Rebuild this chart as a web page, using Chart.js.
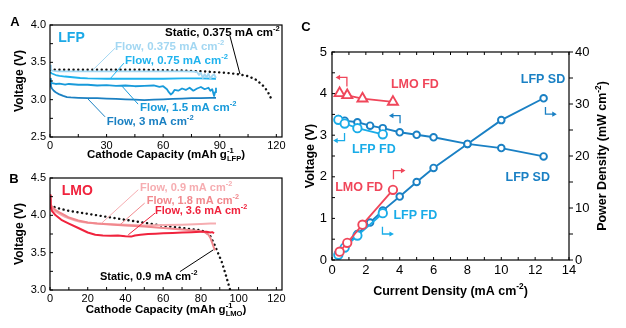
<!DOCTYPE html>
<html>
<head>
<meta charset="utf-8">
<script src="https://cdn.jsdelivr.net/npm/chart.js@4.4.1/dist/chart.umd.min.js"></script>
<style>
  html, body { margin: 0; padding: 0; background: #fff; }
  #wrap { position: relative; width: 626px; height: 328px; overflow: hidden; }
  canvas { position: absolute; }
</style>
</head>
<body>
<div id="wrap">
  <canvas id="chartA" width="300" height="165" style="left:0;top:0"></canvas>
  <canvas id="chartB" width="300" height="168" style="left:0;top:160px"></canvas>
  <canvas id="chartC" width="326" height="328" style="left:300px;top:0"></canvas>
</div>
<script>
// ---- Panel A: LFP discharge at different flow rates ----
const lfpTicksX = [0, 30, 60, 90, 120];
const lfpTicksY = [2.5, 3.0, 3.5, 4.0];

const lfpStaticCap = [0, 10, 20, 30, 40, 50, 60, 70, 80, 90, 95, 100, 105, 109, 112, 114, 116, 117.5];
const lfpStaticV   = [3.40, 3.40, 3.40, 3.40, 3.40, 3.40, 3.395, 3.39, 3.38, 3.365, 3.355, 3.34, 3.315, 3.27, 3.21, 3.16, 3.08, 3.0];

const lfp375Cap = [0, 0.5, 1, 2, 4, 6, 10, 20, 30, 40, 50, 60, 70, 76, 78, 79, 80, 81, 82, 83, 84, 85, 86, 87, 88];
const lfp375V   = [3.46, 3.40, 3.39, 3.385, 3.38, 3.38, 3.38, 3.38, 3.38, 3.38, 3.38, 3.38, 3.38, 3.375, 3.37, 3.33, 3.36, 3.29, 3.34, 3.30, 3.35, 3.28, 3.32, 3.34, 3.29];

const lfp75Cap = [0, 1, 3, 5, 8, 12, 16, 20, 30, 40, 50, 60, 70, 80, 88];
const lfp75V   = [3.37, 3.35, 3.33, 3.32, 3.31, 3.30, 3.29, 3.285, 3.28, 3.28, 3.28, 3.28, 3.285, 3.285, 3.28];

const lfp150Cap = [0, 0.5, 1, 3, 5, 8, 10, 15, 20, 25, 30, 35, 40, 45, 50, 55, 58, 60, 62, 63, 64, 65, 66, 68, 70, 72, 74, 76, 78, 80, 82, 84, 85, 86, 87, 87.5, 88];
const lfp150V   = [3.28, 3.24, 3.22, 3.21, 3.215, 3.20, 3.21, 3.20, 3.20, 3.19, 3.195, 3.185, 3.19, 3.18, 3.185, 3.19, 3.17, 3.18, 3.14, 3.10, 3.07, 3.09, 3.13, 3.12, 3.15, 3.13, 3.16, 3.12, 3.15, 3.17, 3.14, 3.16, 3.12, 3.14, 3.05, 3.10, 3.16];

const lfp300Cap = [0, 0.5, 1, 2, 3, 5, 7, 9, 11, 15, 20, 25, 30, 35, 40, 45, 50, 55, 60, 65, 70, 75, 80, 85, 88];
const lfp300V   = [3.22, 3.18, 3.15, 3.12, 3.10, 3.07, 3.05, 3.035, 3.03, 3.025, 3.02, 3.02, 3.015, 3.01, 3.005, 3.0, 2.995, 3.0, 3.005, 3.01, 3.015, 3.02, 3.02, 3.025, 3.025];

// ---- Panel B: LMO discharge ----
const lmoTicksX = [0, 20, 40, 60, 80, 100, 120];
const lmoTicksY = [3.0, 3.5, 4.0, 4.5];

const lmoStaticCap = [0, 5, 10, 20, 30, 40, 50, 60, 70, 80, 83, 85, 87, 89, 91, 93, 95.5];
const lmoStaticV   = [4.13, 4.09, 4.06, 4.02, 3.98, 3.94, 3.90, 3.86, 3.83, 3.80, 3.77, 3.72, 3.62, 3.50, 3.38, 3.22, 3.0];

const lmo09Cap = [0, 0.3, 1, 3, 5, 8, 10, 13, 16, 20, 25, 30, 40, 50, 60, 70, 80, 85, 88];
const lmo09V   = [4.2, 4.12, 4.09, 4.05, 4.02, 3.98, 3.96, 3.935, 3.915, 3.90, 3.89, 3.885, 3.875, 3.865, 3.87, 3.875, 3.885, 3.89, 3.89];

const lmo18Cap = [0, 0.3, 1, 3, 5, 8, 10, 15, 20, 25, 30, 40, 50, 60, 70, 78, 82, 84, 85, 86, 87, 87.5];
const lmo18V   = [4.22, 4.15, 4.12, 4.07, 4.04, 4.0, 3.97, 3.93, 3.905, 3.89, 3.88, 3.865, 3.85, 3.83, 3.81, 3.795, 3.775, 3.74, 3.70, 3.63, 3.56, 3.53];

const lmo36Cap = [0, 0.2, 0.5, 1, 3, 6, 10, 15, 20, 24, 28, 32, 36, 40, 43, 45, 48, 52, 56, 60, 65, 70, 75, 80, 83, 85, 86, 87];
const lmo36V   = [4.1, 4.27, 4.12, 4.06, 4.0, 3.94, 3.89, 3.83, 3.77, 3.74, 3.73, 3.725, 3.73, 3.72, 3.715, 3.73, 3.74, 3.75, 3.755, 3.76, 3.765, 3.77, 3.775, 3.78, 3.78, 3.77, 3.775, 3.76];

// ---- Panel C: voltage and power density vs current density ----
const curTicks = [0, 2, 4, 6, 8, 10, 12, 14];
const voltTicks = [0, 1, 2, 3, 4, 5];
const powTicks = [0, 10, 20, 30, 40];

const lmoFdCurrent = [0.45, 0.9, 1.8, 3.6];
const lmoFdVoltage = [4.01, 3.96, 3.88, 3.80];
const lmoFdPower   = [1.6, 3.3, 6.8, 13.5];

const lfpFdCurrent = [0.375, 0.75, 1.5, 3];
const lfpFdVoltage = [3.37, 3.28, 3.17, 3.02];
const lfpFdPower   = [1.0, 2.4, 4.7, 9.0];

const lfpSdCurrent = [0.375, 0.75, 1.5, 2.25, 3, 4, 5, 6, 8, 10, 12.5];
const lfpSdVoltage = [3.39, 3.35, 3.31, 3.23, 3.17, 3.07, 3.01, 2.95, 2.79, 2.69, 2.49];
const lfpSdPower   = [1.3, 2.5, 5.0, 7.2, 9.5, 12.2, 15.0, 17.7, 22.3, 26.9, 31.1];

// ---- colours ----
const FONT = '"Liberation Sans", Arial, Helvetica, sans-serif';
const C375 = '#a3d7f2', C75 = '#1fb3ee', C150 = '#189ada', C300 = '#1b80c2', LFP_LABEL = '#1ca9e7';
const P09 = '#f6adb1', P18 = '#f1888d', P36 = '#f0233d';
const RED = '#f0465a', CYAN = '#19ace8', BLUE = '#1a80c4';

const pts = (xs, ys) => xs.map((x, i) => ({ x, y: ys[i] }));
const range = (a, b, s) => { const out = []; for (let v = a; v <= b + 1e-9; v += s) out.push(+v.toFixed(4)); return out; };

// text with superscript / subscript pieces, drawn on the canvas
function richLayout(ctx, parts, size) {
  const items = []; let w = 0;
  parts.forEach(([t, k]) => {
    const s = k ? size * 0.66 : size;
    ctx.font = `bold ${s}px ${FONT}`;
    const tw = ctx.measureText(t).width;
    const prev = items[items.length - 1];
    if (k === 'sub' && prev && prev.k === 'sup') {
      items.push({ t, k, s, x: prev.x, w: tw });
      w = prev.x + Math.max(prev.w, tw);
    } else {
      items.push({ t, k, s, x: w, w: tw });
      w += tw;
    }
  });
  return { items, w };
}

function richText(ctx, parts, x, y, o) {
  const size = o.size || 12;
  ctx.save();
  ctx.translate(x, y);
  if (o.rot) ctx.rotate(o.rot);
  const { items, w } = richLayout(ctx, parts, size);
  const x0 = o.align === 'center' ? -w / 2 : 0;
  ctx.fillStyle = o.color || '#000';
  ctx.textBaseline = 'middle';
  ctx.textAlign = 'left';
  items.forEach(it => {
    ctx.font = `bold ${it.s}px ${FONT}`;
    const dy = it.k === 'sup' ? -size * 0.36 : it.k === 'sub' ? size * 0.34 : 0;
    ctx.fillText(it.t, x0 + it.x, dy);
  });
  ctx.restore();
}

// frame, inward tick marks, titles, labels, leader lines and bent arrows
function decor(spec) {
  return {
    id: 'decor',
    afterDatasetsDraw(chart) {
      const { ctx, chartArea: a, scales } = chart;
      const px = (sc, v) => scales[sc].getPixelForValue(v);
      ctx.save();
      ctx.strokeStyle = '#000';
      ctx.lineWidth = 1.2;
      ctx.strokeRect(a.left, a.top, a.right - a.left, a.bottom - a.top);
      ctx.lineWidth = 1;
      spec.marks.forEach(m => {
        m.at.forEach(v => {
          const p = px(m.scale, v);
          m.sides.forEach(side => {
            ctx.beginPath();
            if (side === 'bottom') { ctx.moveTo(p, a.bottom); ctx.lineTo(p, a.bottom - m.len); }
            if (side === 'top') { ctx.moveTo(p, a.top); ctx.lineTo(p, a.top + m.len); }
            if (side === 'left') { ctx.moveTo(a.left, p); ctx.lineTo(a.left + m.len, p); }
            if (side === 'right') { ctx.moveTo(a.right, p); ctx.lineTo(a.right - m.len, p); }
            ctx.stroke();
          });
        });
      });

      (spec.leaders || []).forEach(l => {
        ctx.strokeStyle = l.color;
        ctx.lineWidth = 1;
        ctx.beginPath();
        ctx.moveTo(px('x', l.from[0]), px('y', l.from[1]));
        ctx.lineTo(px('x', l.to[0]), px('y', l.to[1]));
        ctx.stroke();
      });

      (spec.arrows || []).forEach(ar => {
        const p = ar.pts.map(([x, y]) => [px('x', x), px(ar.yAxis, y)]);
        ctx.strokeStyle = ar.color;
        ctx.fillStyle = ar.color;
        ctx.lineWidth = 1.3;
        ctx.beginPath();
        p.forEach(([x, y], i) => (i ? ctx.lineTo(x, y) : ctx.moveTo(x, y)));
        ctx.stroke();
        const [x1, y1] = p[p.length - 2], [x2, y2] = p[p.length - 1];
        const ang = Math.atan2(y2 - y1, x2 - x1), h = 4.5, hw = 2.6;
        const tx = x2 + Math.cos(ang) * 2, ty = y2 + Math.sin(ang) * 2;
        ctx.beginPath();
        ctx.moveTo(tx, ty);
        ctx.lineTo(tx - Math.cos(ang) * h + Math.sin(ang) * hw, ty - Math.sin(ang) * h - Math.cos(ang) * hw);
        ctx.lineTo(tx - Math.cos(ang) * h - Math.sin(ang) * hw, ty - Math.sin(ang) * h + Math.cos(ang) * hw);
        ctx.closePath();
        ctx.fill();
      });

      (spec.notes || []).forEach(n => {
        richText(ctx, n.parts, px('x', n.x), px('y', n.y), { size: n.size, color: n.color });
      });

      (spec.titles || []).forEach(t => {
        const [x, y] = t.at(a);
        richText(ctx, t.parts, x, y, { size: t.size, rot: t.rot, align: 'center', color: '#000' });
      });
      ctx.restore();
    }
  };
}

function linAxis(min, max, ticks, pos, size, fmt, fontSize, pad) {
  return {
    type: 'linear', position: pos, min, max,
    grid: { display: false, drawTicks: false },
    border: { display: false },
    afterBuildTicks: s => { s.ticks = ticks.map(v => ({ value: v })); },
    afterFit: s => { if (pos === 'bottom') s.height = size; else s.width = size; },
    ticks: { color: '#000', font: { family: FONT, size: fontSize }, padding: pad, callback: fmt, maxRotation: 0, autoSkip: false }
  };
}

function curve(xs, ys, color, width) {
  return { data: pts(xs, ys), showLine: true, borderColor: color, borderWidth: width, pointRadius: 0, tension: 0, fill: false, borderJoinStyle: 'round' };
}

function dotted(xs, ys) {
  return { data: pts(xs, ys), showLine: true, borderColor: '#111', borderWidth: 2.4, borderDash: [0.1, 4.6], borderCapStyle: 'round', pointRadius: 0, tension: 0, fill: false };
}

function markers(xs, ys, color, style, r, yAxis, lineW) {
  return {
    data: pts(xs, ys), yAxisID: yAxis, showLine: true, borderColor: color, borderWidth: lineW,
    pointStyle: style, pointRadius: r, pointBorderWidth: 1.9, pointBorderColor: color, pointBackgroundColor: '#fff', tension: 0
  };
}

function baseOptions(scales, pad) {
  return {
    responsive: false, animation: false, events: [],
    layout: { padding: pad },
    plugins: { legend: { display: false }, tooltip: { enabled: false } },
    scales
  };
}

const sup2 = ['-2', 'sup'];

// ---- Chart A ----
new Chart(document.getElementById('chartA'), {
  type: 'scatter',
  data: {
    datasets: [
      curve(lfp375Cap, lfp375V, C375, 1.8),
      curve(lfp75Cap, lfp75V, C75, 1.8),
      curve(lfp150Cap, lfp150V, C150, 1.8),
      curve(lfp300Cap, lfp300V, C300, 1.8),
      dotted(lfpStaticCap, lfpStaticV)
    ]
  },
  options: baseOptions({
    x: linAxis(0, 123, lfpTicksX, 'bottom', 28, v => v, 11, 2),
    y: linAxis(2.5, 4.0, lfpTicksY, 'left', 50, v => v.toFixed(1), 11, 4)
  }, { top: 25, right: 18, left: 0, bottom: 0 }),
  plugins: [decor({
    marks: [
      { scale: 'x', at: range(0, 120, 15), sides: ['bottom'], len: 3 },
      { scale: 'y', at: range(2.5, 4, 0.25), sides: ['left'], len: 3 }
    ],
    notes: [
      { x: 4.4, y: 3.83, parts: [['LFP']], color: LFP_LABEL, size: 14 },
      { x: 61.0, y: 3.889, parts: [['Static, 0.375 mA cm'], sup2], color: '#000', size: 11.5 },
      { x: 34.5, y: 3.71, parts: [['Flow, 0.375 mA cm'], sup2], color: C375, size: 11.5 },
      { x: 39.8, y: 3.518, parts: [['Flow, 0.75 mA cm'], sup2], color: C75, size: 11.5 },
      { x: 47.7, y: 2.884, parts: [['Flow, 1.5 mA cm'], sup2], color: C150, size: 11.5 },
      { x: 30.1, y: 2.705, parts: [['Flow, 3 mA cm'], sup2], color: C300, size: 11.5 }
    ],
    leaders: [
      { from: [95.4, 3.853], to: [100.7, 3.344], color: '#000' },
      { from: [34.5, 3.69], to: [22.8, 3.40], color: C375 },
      { from: [39.2, 3.49], to: [31.8, 3.277], color: C75 },
      { from: [46.7, 2.94], to: [38.2, 3.18], color: C150 },
      { from: [29.2, 2.77], to: [20.1, 3.01], color: C300 }
    ],
    titles: [
      { parts: [['Cathode Capacity (mAh g'], ['-1', 'sup'], ['LFP', 'sub'], [')']], size: 11.5, at: a => [(a.left + a.right) / 2, a.bottom + 18] },
      { parts: [['Voltage (V)']], size: 12, rot: -Math.PI / 2, at: a => [20, (a.top + a.bottom) / 2] },
      { parts: [['A']], size: 13, at: () => [15, 22] }
    ]
  })]
});

// ---- Chart B ----
new Chart(document.getElementById('chartB'), {
  type: 'scatter',
  data: {
    datasets: [
      curve(lmo36Cap, lmo36V, P36, 2),
      curve(lmo18Cap, lmo18V, P18, 2),
      curve(lmo09Cap, lmo09V, P09, 2),
      dotted(lmoStaticCap, lmoStaticV)
    ]
  },
  options: baseOptions({
    x: linAxis(0, 123, lmoTicksX, 'bottom', 38, v => v, 11, 2),
    y: linAxis(3.0, 4.5, lmoTicksY, 'left', 50, v => v.toFixed(1), 11, 4)
  }, { top: 18, right: 18, left: 0, bottom: 0 }),
  plugins: [decor({
    marks: [
      { scale: 'x', at: range(0, 120, 10), sides: ['bottom'], len: 3 },
      { scale: 'y', at: range(3, 4.5, 0.25), sides: ['left'], len: 3 }
    ],
    notes: [
      { x: 6.2, y: 4.32, parts: [['LMO']], color: P36, size: 14 },
      { x: 47.7, y: 4.366, parts: [['Flow, 0.9 mA cm'], sup2], color: P09, size: 11 },
      { x: 51.3, y: 4.186, parts: [['Flow, 1.8 mA cm'], sup2], color: P18, size: 11 },
      { x: 55.7, y: 4.052, parts: [['Flow, 3.6 mA cm'], sup2], color: P36, size: 11 },
      { x: 26.5, y: 3.171, parts: [['Static, 0.9 mA cm'], sup2], color: '#000', size: 11 }
    ],
    leaders: [
      { from: [46.8, 4.343], to: [27.4, 3.896], color: P09 },
      { from: [50.2, 4.164], to: [37.1, 3.873], color: P18 },
      { from: [55.7, 4.03], to: [41.5, 3.739], color: P36 },
      { from: [68.9, 3.246], to: [86.6, 3.538], color: '#000' }
    ],
    titles: [
      { parts: [['Cathode Capacity (mAh g'], ['-1', 'sup'], ['LMO', 'sub'], [')']], size: 11.5, at: a => [(a.left + a.right) / 2, a.bottom + 20] },
      { parts: [['Voltage (V)']], size: 12, rot: -Math.PI / 2, at: a => [20, (a.top + a.bottom) / 2] },
      { parts: [['B']], size: 13, at: () => [14, 19] }
    ]
  })]
});

// ---- Chart C ----
new Chart(document.getElementById('chartC'), {
  type: 'scatter',
  data: {
    datasets: [
      markers(lmoFdCurrent, lmoFdVoltage, RED, 'triangle', 5.8, 'y', 1.8),
      markers(lmoFdCurrent, lmoFdPower, RED, 'circle', 4.2, 'y1', 1.8),
      markers(lfpFdCurrent, lfpFdVoltage, CYAN, 'circle', 4.2, 'y', 1.8),
      markers(lfpFdCurrent, lfpFdPower, CYAN, 'circle', 4.2, 'y1', 1.8),
      markers(lfpSdCurrent, lfpSdVoltage, BLUE, 'circle', 3.3, 'y', 1.9),
      markers(lfpSdCurrent, lfpSdPower, BLUE, 'circle', 3.3, 'y1', 1.9)
    ]
  },
  options: baseOptions({
    x: linAxis(0, 14, curTicks, 'bottom', 68, v => v, 13, 3),
    y: linAxis(0, 5, voltTicks, 'left', 32, v => v, 13, 5),
    y1: linAxis(0, 40, powTicks, 'right', 40, v => v, 13, 6)
  }, { top: 52, right: 17, left: 0, bottom: 0 }),
  plugins: [decor({
    marks: [
      { scale: 'x', at: range(0, 14, 1), sides: ['bottom', 'top'], len: 3 },
      { scale: 'y', at: range(0, 5, 0.5), sides: ['left'], len: 3 },
      { scale: 'y1', at: range(0, 40, 5), sides: ['right'], len: -4 }
    ],
    notes: [
      { x: 3.48, y: 4.21, parts: [['LMO FD']], color: RED, size: 12.5 },
      { x: 11.15, y: 4.33, parts: [['LFP SD']], color: BLUE, size: 12.5 },
      { x: 1.18, y: 2.66, parts: [['LFP FD']], color: CYAN, size: 12.5 },
      { x: 0.19, y: 1.74, parts: [['LMO FD']], color: RED, size: 12.5 },
      { x: 3.63, y: 1.08, parts: [['LFP FD']], color: CYAN, size: 12.5 },
      { x: 10.25, y: 1.99, parts: [['LFP SD']], color: BLUE, size: 12.5 }
    ],
    arrows: [
      { yAxis: 'y', color: RED, pts: [[0.88, 4.17], [0.88, 4.39], [0.33, 4.39]] },
      { yAxis: 'y', color: CYAN, pts: [[0.74, 3.05], [0.74, 2.87], [0.19, 2.87]] },
      { yAxis: 'y', color: BLUE, pts: [[4.02, 3.29], [4.02, 3.47], [3.48, 3.47]] },
      { yAxis: 'y1', color: BLUE, pts: [[12.61, 29.4], [12.61, 28.05], [13.16, 28.05]] },
      { yAxis: 'y1', color: RED, pts: [[3.63, 15.53], [3.63, 17.19], [4.22, 17.19]] },
      { yAxis: 'y1', color: CYAN, pts: [[2.98, 6.4], [2.98, 5.0], [3.54, 5.0]] }
    ],
    titles: [
      { parts: [['Current Density (mA cm'], sup2, [')']], size: 12.5, at: a => [(a.left + a.right) / 2, a.bottom + 31.7] },
      { parts: [['Voltage (V)']], size: 12.5, rot: -Math.PI / 2, at: a => [11, (a.top + a.bottom) / 2] },
      { parts: [['Power Density (mW cm'], sup2, [')']], size: 12.5, rot: -Math.PI / 2, at: a => [303, (a.top + a.bottom) / 2] },
      { parts: [['C']], size: 13, at: () => [6, 27] }
    ]
  })]
});
</script>
</body>
</html>
